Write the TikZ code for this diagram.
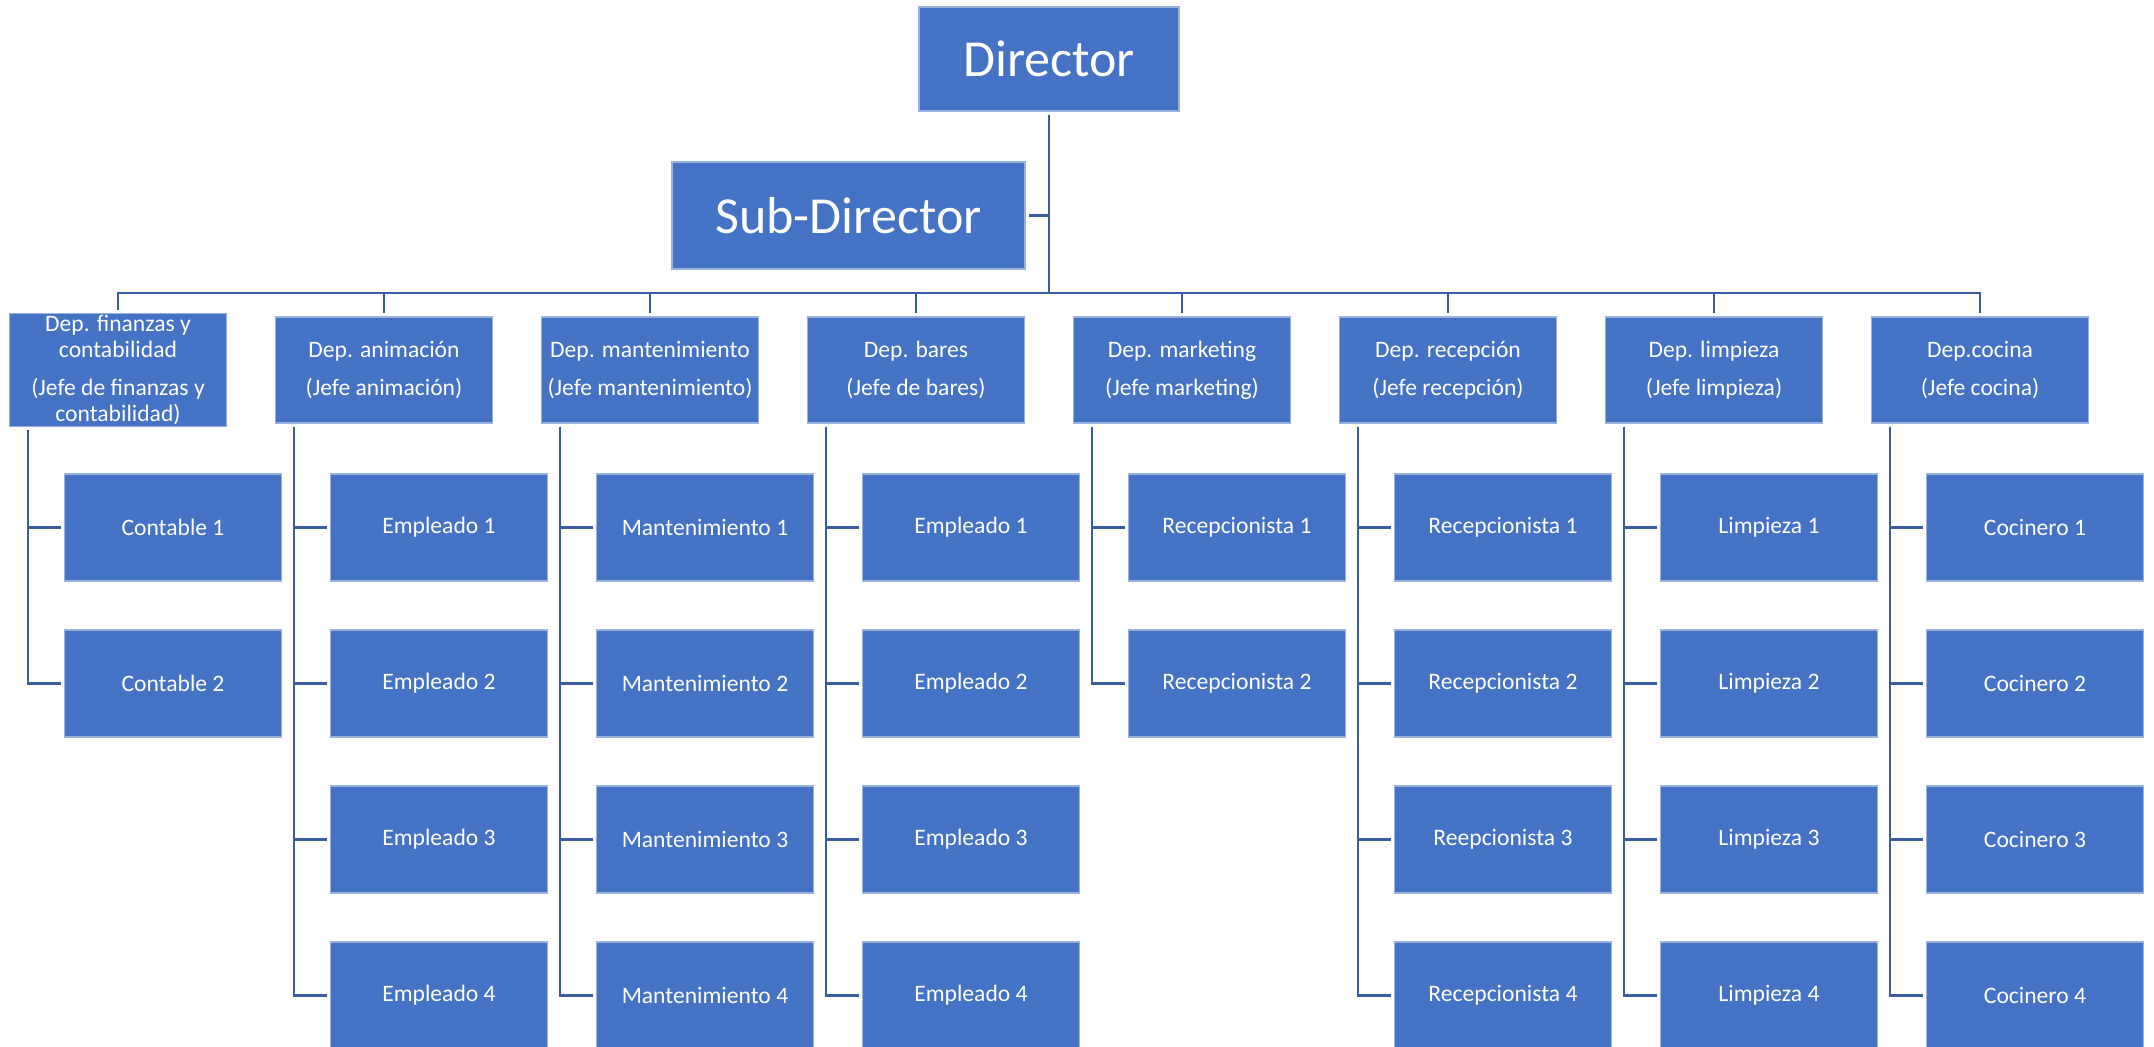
\documentclass[tikz,border=0pt]{standalone}
\usepackage{fontspec}
\setmainfont{Carlito}
\usetikzlibrary{positioning}
\definecolor{boxblue}{HTML}{4472C4}
\definecolor{linkblue}{HTML}{3A5DA2}

\begin{document}
\begin{tikzpicture}[x=0.5pt,y=-0.5pt]

\tikzset{
    box/.style={draw=boxblue!55!white, line width=0.6pt, fill=boxblue, text=white, inner sep=1pt, align=center},
    boss/.style={box, minimum height=52pt, font=\fontsize{26}{30}\selectfont},
    dept/.style={box, minimum width=108.5pt, minimum height=53pt, font=\fontsize{11.8}{13}\selectfont},
    staff/.style={box, minimum width=108.5pt, minimum height=53.5pt, font=\fontsize{11.8}{13}\selectfont},
    link/.style={draw=linkblue, line width=1.3pt, shorten <=1.5pt, shorten >=1.5pt}
}
\useasboundingbox (0,0) rectangle (2154,1047);

\node[boss, minimum width=130pt] (dir) at (1049,59) {Director};
\node[boss, minimum width=176.5pt, minimum height=53.5pt] (subdir) at (848.5,215.5) {Sub-Director};
\coordinate (bus) at (0,293);

\foreach \i/\x/\txt in {
    1/118/{Dep. finanzas y\\contabilidad\\[6pt](Jefe de finanzas y\\contabilidad)},
    2/384/{Dep. animación\\[6pt](Jefe animación)},
    3/650/{Dep. mantenimiento\\[6pt](Jefe mantenimiento)},
    4/916/{Dep. bares\\[6pt](Jefe de bares)},
    5/1182/{Dep. marketing\\[6pt](Jefe marketing)},
    6/1448/{Dep. recepción\\[6pt](Jefe recepción)},
    7/1714/{Dep. limpieza\\[6pt](Jefe limpieza)},
    8/1980/{Dep.cocina\\[6pt](Jefe cocina)}}
{
    \node[dept] (dep\i) at (\x,370) {\txt};
    \draw[link] (dir.south) |- (dep\i.north |- bus) -- (dep\i.north);
}
\draw[link, shorten <=0pt] (subdir.east -| dir.south) -- (subdir.east);

\foreach \i/\x/\names in {
    1/118/{Contable 1,Contable 2},
    2/384/{Empleado 1,Empleado 2,Empleado 3,Empleado 4},
    3/650/{Mantenimiento 1,Mantenimiento 2,Mantenimiento 3,Mantenimiento 4},
    4/916/{Empleado 1,Empleado 2,Empleado 3,Empleado 4},
    5/1182/{Recepcionista 1,Recepcionista 2},
    6/1448/{Recepcionista 1,Recepcionista 2,Reepcionista 3,Recepcionista 4},
    7/1714/{Limpieza 1,Limpieza 2,Limpieza 3,Limpieza 4},
    8/1980/{Cocinero 1,Cocinero 2,Cocinero 3,Cocinero 4}}
{
    \foreach \n [count=\j] in \names {
        \node[staff] (emp\i-\j) at ({\x+55},{371.5+156*\j}) {\n};
        \draw[link] ([xshift=9.5pt]dep\i.south west) |- (emp\i-\j.west);
    }
}
\end{tikzpicture}
\end{document}
